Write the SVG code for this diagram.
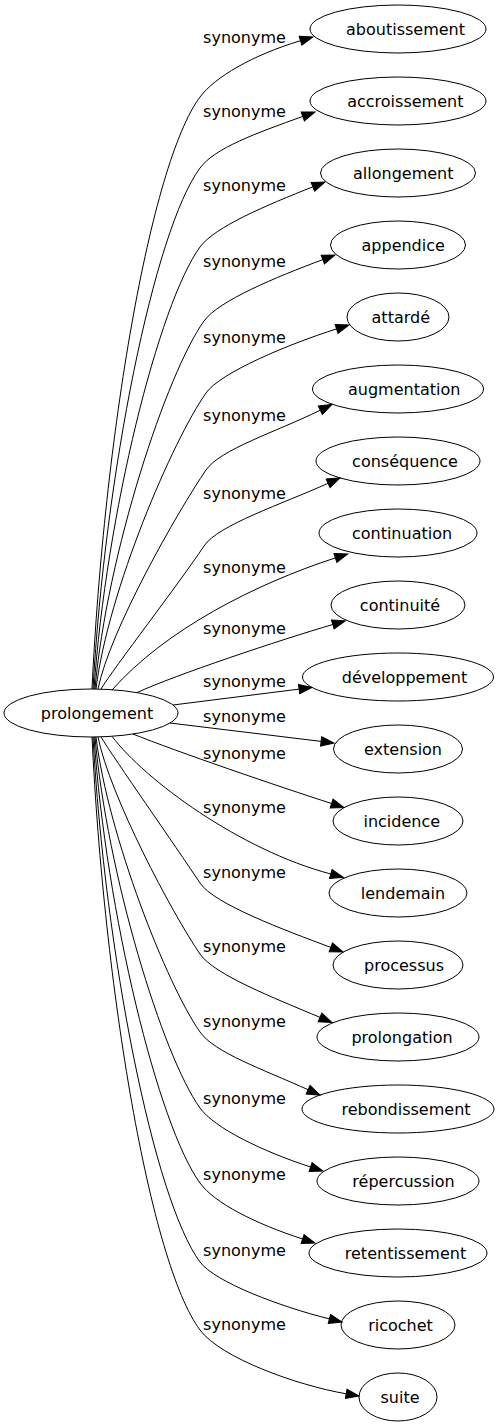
<svg xmlns="http://www.w3.org/2000/svg" width="499" height="1427" viewBox="0 0 499 1427">
<style>
text{font-family:"DejaVu Sans","Liberation Sans",sans-serif;font-size:16px;fill:#000;text-anchor:middle}
.node ellipse{fill:none;stroke:#000;stroke-width:1}
.edges path{fill:none;stroke:#000;stroke-width:1;marker-end:url(#arr)}
</style>
<defs>
<marker id="arr" markerUnits="userSpaceOnUse" markerWidth="14" markerHeight="10" refX="0" refY="4.7" orient="auto" overflow="visible"><path d="M0,0 L13,4.7 L0,9.4 Z" fill="#000" stroke="#000" stroke-width="1"/></marker>
</defs>
<rect width="499" height="1427" fill="#fff"/>
<g class="edges" id="connectors">
<path d="M92,689 C104,438.5 150,164 200,97 C215,77 252.6,55.1 300.5,40.7"/>
<path d="M93,689 C105,475 154,230.3 200,168 C214.9,147.9 255.8,133.4 302.8,116.4"/>
<path d="M94,689 C106,515.5 158.6,303.9 200,247 C214.7,226.8 266.4,205.3 312.9,186.8"/>
<path d="M95,689 C107,553.5 166.8,372.9 204,321 C218.6,300.7 276,277.1 322.8,259.6"/>
<path d="M96,689 C108,590.5 172.9,440.1 206,393 C220.4,372.5 288.9,344 336.6,328.9"/>
<path d="M98,689 C110,630 177.4,511.9 206,470 C220.1,449.4 275.4,432.2 320.3,410.2"/>
<path d="M101,689 C113,669 179.7,582.7 204,546 C217.8,525.1 282.5,503.9 328.1,483.3"/>
<path d="M112,690 C165,630 255,584 335.4,557.9"/>
<path d="M137,692.6 C175,675 280,640 332.8,624.5"/>
<path d="M173,705 L299.1,689.1"/>
<path d="M170,723 L321.1,741.4"/>
<path d="M133,734 C175,751 280,787 331.6,803.5"/>
<path d="M112,736.3 C145,780 240,850 330.8,874"/>
<path d="M101,737 C113,757 175.7,846.3 200,883 C213.8,903.9 284,929.9 330.8,947.4"/>
<path d="M98,737 C110,796 171.4,912.1 200,954 C214.1,974.7 274,997.9 320,1017.4"/>
<path d="M96,737 C108,835.5 166.9,984.9 200,1032 C214.4,1052.5 262.5,1069.2 308.1,1089.7"/>
<path d="M95,737 C107,874 162.6,1055.9 200,1108 C214.6,1128.3 263,1151.5 310.6,1167"/>
<path d="M94,737 C106,912.5 158.3,1125.8 200,1183 C214.7,1203.2 255,1223.5 302.6,1239"/>
<path d="M93,737 C105,953 153.8,1199.5 200,1262 C214.9,1282.1 280.9,1306.9 329.4,1318.9"/>
<path d="M92,737 C104,988 149.9,1262.9 200,1330 C220.9,1358 297,1385.3 346.2,1393.8"/>
<text x="244.5" y="43">synonyme</text>
<text x="244.5" y="117">synonyme</text>
<text x="244.5" y="191">synonyme</text>
<text x="244.5" y="267">synonyme</text>
<text x="244.5" y="343">synonyme</text>
<text x="244.5" y="421">synonyme</text>
<text x="244.5" y="499">synonyme</text>
<text x="244.5" y="573">synonyme</text>
<text x="244.5" y="634">synonyme</text>
<text x="244.5" y="687">synonyme</text>
<text x="244.5" y="722">synonyme</text>
<text x="244.5" y="759">synonyme</text>
<text x="244.5" y="813">synonyme</text>
<text x="244.5" y="878">synonyme</text>
<text x="244.5" y="952">synonyme</text>
<text x="244.5" y="1027">synonyme</text>
<text x="244.5" y="1104">synonyme</text>
<text x="244.5" y="1180">synonyme</text>
<text x="244.5" y="1256">synonyme</text>
<text x="244.5" y="1330">synonyme</text>
</g>
<g class="node" id="n-prolongement"><ellipse cx="91" cy="713" rx="87" ry="24"/><text x="97" y="718.5">prolongement</text></g>
<g class="node" id="n-aboutissement"><ellipse cx="398" cy="29" rx="88" ry="24"/><text x="405.5" y="34.5">aboutissement</text></g>
<g class="node" id="n-accroissement"><ellipse cx="398" cy="101" rx="88" ry="24"/><text x="405.3" y="106.5">accroissement</text></g>
<g class="node" id="n-allongement"><ellipse cx="398" cy="173" rx="77.5" ry="24"/><text x="403.3" y="178.5">allongement</text></g>
<g class="node" id="n-appendice"><ellipse cx="398" cy="245" rx="67.5" ry="24"/><text x="403.2" y="250.5">appendice</text></g>
<g class="node" id="n-attarde"><ellipse cx="398" cy="317" rx="51" ry="24"/><text x="400.8" y="322.5">attardé</text></g>
<g class="node" id="n-augmentation"><ellipse cx="398" cy="389" rx="85.5" ry="24"/><text x="404.2" y="394.5">augmentation</text></g>
<g class="node" id="n-consequence"><ellipse cx="398" cy="461" rx="82" ry="24"/><text x="405" y="466.5">conséquence</text></g>
<g class="node" id="n-continuation"><ellipse cx="398" cy="533" rx="79" ry="24"/><text x="402" y="538.5">continuation</text></g>
<g class="node" id="n-continuite"><ellipse cx="398" cy="605" rx="67" ry="24"/><text x="400" y="610.5">continuité</text></g>
<g class="node" id="n-developpement"><ellipse cx="398" cy="677" rx="95.5" ry="24"/><text x="404.5" y="682.5">développement</text></g>
<g class="node" id="n-extension"><ellipse cx="398" cy="749" rx="64.5" ry="24"/><text x="403" y="754.5">extension</text></g>
<g class="node" id="n-incidence"><ellipse cx="398" cy="821" rx="65" ry="24"/><text x="401.8" y="826.5">incidence</text></g>
<g class="node" id="n-lendemain"><ellipse cx="398" cy="893" rx="69" ry="24"/><text x="403" y="898.5">lendemain</text></g>
<g class="node" id="n-processus"><ellipse cx="398" cy="965" rx="65" ry="24"/><text x="404" y="970.5">processus</text></g>
<g class="node" id="n-prolongation"><ellipse cx="398" cy="1037" rx="81" ry="24"/><text x="402" y="1042.5">prolongation</text></g>
<g class="node" id="n-rebondissement"><ellipse cx="398" cy="1109" rx="96" ry="24"/><text x="406" y="1114.5">rebondissement</text></g>
<g class="node" id="n-repercussion"><ellipse cx="398" cy="1181" rx="81" ry="24"/><text x="403.5" y="1186.5">répercussion</text></g>
<g class="node" id="n-retentissement"><ellipse cx="398" cy="1253" rx="89" ry="24"/><text x="405.5" y="1258.5">retentissement</text></g>
<g class="node" id="n-ricochet"><ellipse cx="398" cy="1325" rx="57" ry="24"/><text x="400.5" y="1330.5">ricochet</text></g>
<g class="node" id="n-suite"><ellipse cx="398" cy="1397" rx="39" ry="24"/><text x="400" y="1402.5">suite</text></g>
</svg>
